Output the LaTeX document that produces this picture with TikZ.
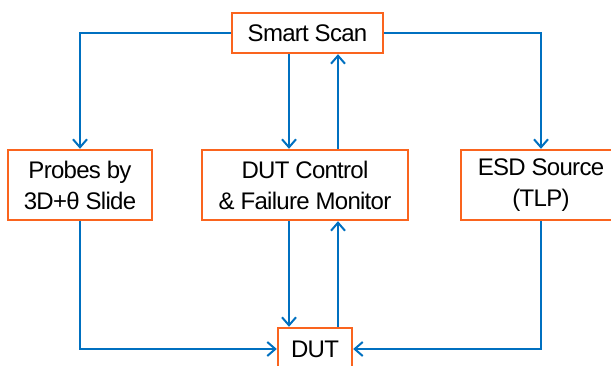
\documentclass[tikz,border=0pt]{standalone}
\usepackage{fontspec}
\setmainfont{Liberation Sans}[LetterSpace=-3]
\usetikzlibrary{arrows.meta}
\definecolor{boxorange}{RGB}{250,100,30}
\definecolor{lineblue}{RGB}{0,112,192}
\tikzset{
  block/.style={draw=boxorange, line width=2.4pt, fill=white, align=center, inner sep=0pt,
    font=\fontsize{24}{31}\selectfont},
  flow/.style={draw=lineblue, line width=2pt, -{Straight Barb[length=8pt,width=14pt,line width=2pt]}},
  plain/.style={draw=lineblue, line width=2pt}
}
\begin{document}
\begin{tikzpicture}[x=1pt,y=-1pt]
\useasboundingbox (0,0) rectangle (611,366);
\node[block, minimum width=151pt, minimum height=40pt] (scan) at (307.5,33) {Smart Scan};
\node[block, minimum width=144pt, minimum height=70pt] (probes) at (80,185) {Probes by\\3D+θ Slide};
\node[block, minimum width=206pt, minimum height=70pt] (ctrl) at (305,185) {DUT Control\\\& Failure Monitor};
\node[block, minimum width=160pt, minimum height=70pt] (esd) at (541,185) {ESD Source\\(TLP)};
\node[block, minimum width=74pt, minimum height=42pt] (dut) at (315,349) {DUT};
% scan to the three blocks
\draw[flow] (scan.west) -| (probes.north);
\draw[flow] (scan.east) -| (esd.north);
\draw[flow] ([xshift=-16pt]ctrl.north |- scan.south) -- ([xshift=-16pt]ctrl.north);
\draw[flow] ([xshift=33pt]ctrl.north) -- ([xshift=33pt]ctrl.north |- scan.south);
% blocks to DUT
\draw[flow] ([xshift=-16pt]ctrl.south) -- ([xshift=-16pt]ctrl.south |- dut.north);
\draw[flow] ([xshift=33pt]ctrl.south |- dut.north) -- ([xshift=33pt]ctrl.south);
\draw[flow] (probes.south) |- (dut.west);
\draw[flow] (esd.south) |- (dut.east);
\end{tikzpicture}
\end{document}
